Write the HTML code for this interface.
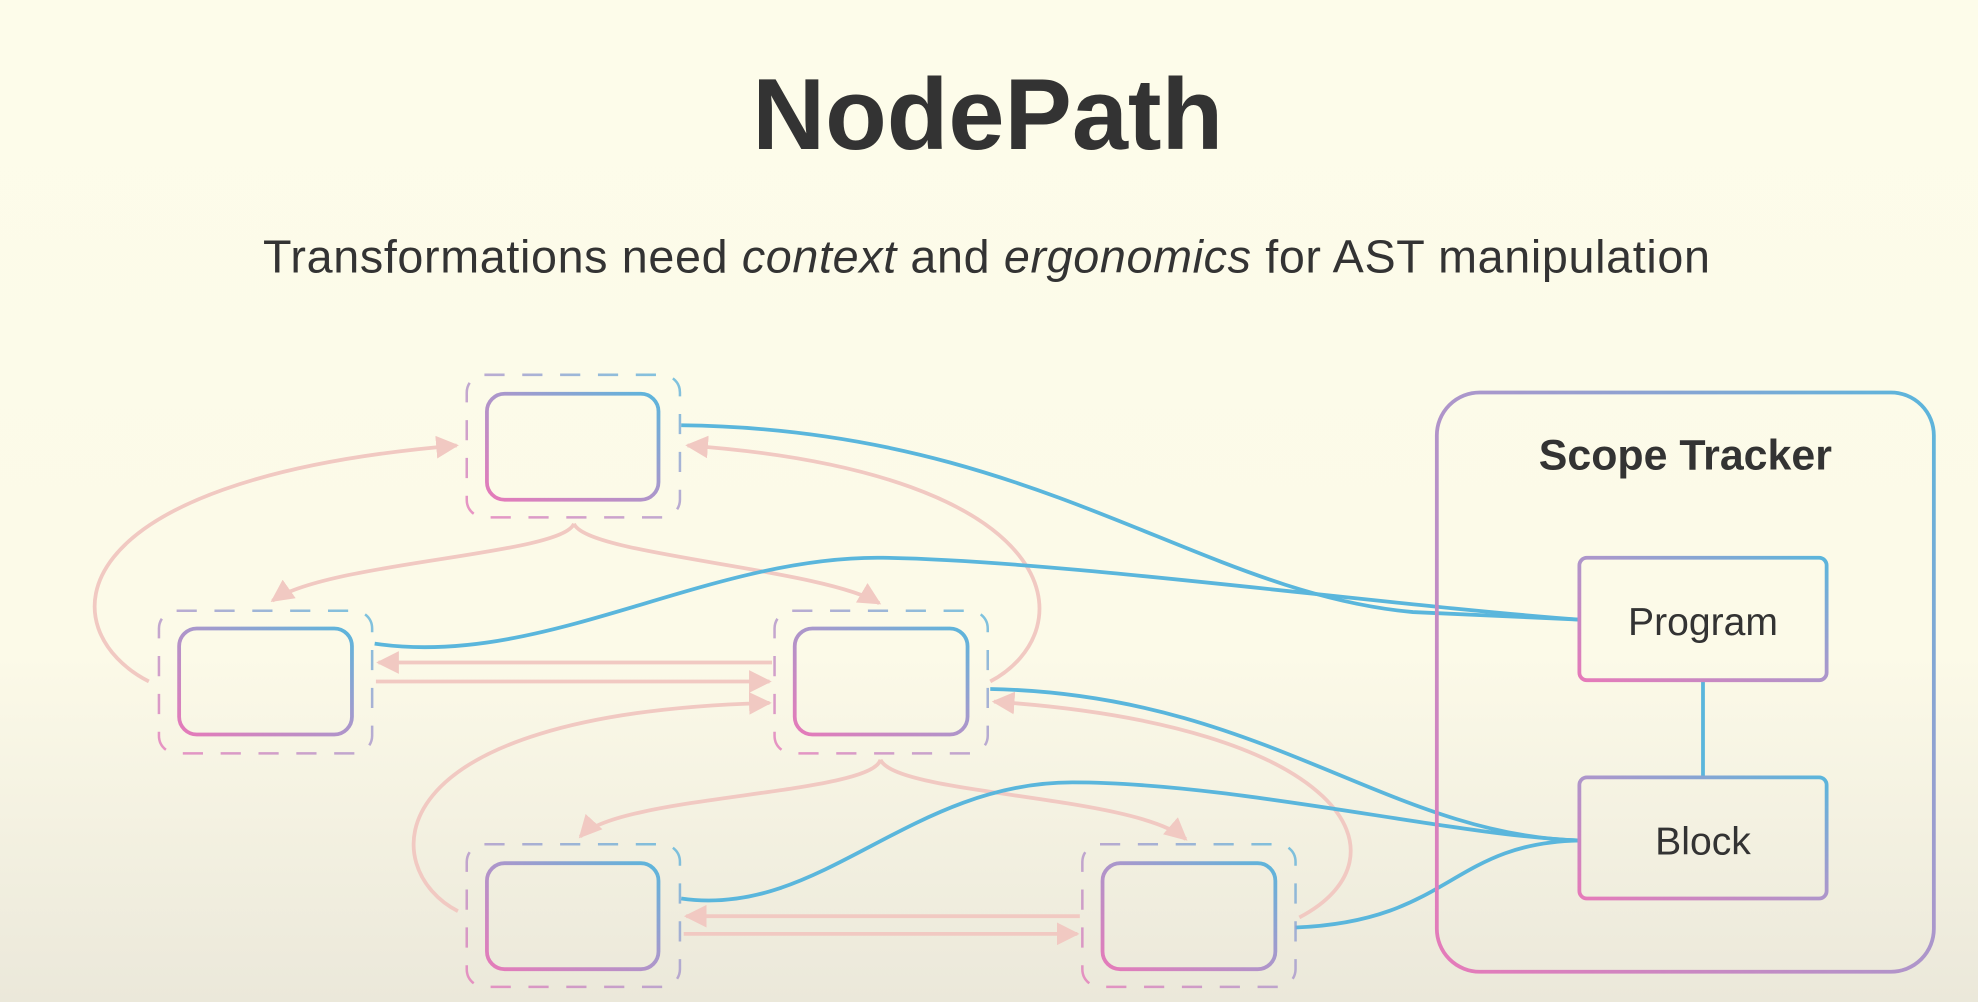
<!DOCTYPE html>
<html><head><meta charset="utf-8"><style>
html,body{margin:0;padding:0;}
body{width:1978px;height:1002px;overflow:hidden;background:linear-gradient(#fdfcea 0%,#fcfae8 65%,#ebe8da 100%);}
svg{display:block}
</style></head><body>
<svg width="1978" height="1002" viewBox="0 0 1568 794" preserveAspectRatio="none" xmlns="http://www.w3.org/2000/svg">
<defs>
<linearGradient id="g" x1="0" y1="1" x2="1" y2="0">
<stop offset="0" stop-color="#e67ab9"/><stop offset="0.55" stop-color="#a898cc"/><stop offset="1" stop-color="#5ab6dc"/>
</linearGradient>
<marker id="ap" viewBox="0 0 10 10" refX="9" refY="5" markerWidth="6" markerHeight="6" orient="auto" markerUnits="strokeWidth">
<path d="M0,0 L10,5 L0,10 z" fill="#f1c9c2"/></marker>
</defs>
<text x="783" y="118" text-anchor="middle" font-family="Liberation Sans, sans-serif" font-weight="bold" font-size="80" fill="#333">NodePath</text>
<text x="782" y="216" text-anchor="middle" font-family="Liberation Sans, sans-serif" font-size="37" fill="#333" textLength="1147" lengthAdjust="spacing">Transformations need <tspan font-style="italic">context</tspan> and <tspan font-style="italic">ergonomics</tspan> for AST manipulation</text>

<g fill="none" stroke="#f1c9c2" stroke-width="3">
<path d="M118,540 C40,500 40,380 362,353" marker-end="url(#ap)"/>
<path d="M785,540 C860,500 850,375 545,353" marker-end="url(#ap)"/>
<path d="M455,415 C445,440 260,445 216,476" marker-end="url(#ap)"/>
<path d="M455,415 C465,440 650,450 697,478" marker-end="url(#ap)"/>
<path d="M612,525 L300,525" marker-end="url(#ap)"/>
<path d="M298,540 L610,540" marker-end="url(#ap)"/>
<path d="M363,722 C300,690 290,565 610,557" marker-end="url(#ap)"/>
<path d="M1030,727 C1120,680 1070,575 788,556" marker-end="url(#ap)"/>
<path d="M698,602 C690,630 490,630 460,663" marker-end="url(#ap)"/>
<path d="M698,602 C710,630 900,630 940,665" marker-end="url(#ap)"/>
<path d="M856,726 L544,726" marker-end="url(#ap)"/>
<path d="M542,740 L854,740" marker-end="url(#ap)"/>
</g>

<g fill="none" stroke="#5ab6dc" stroke-width="3">
<path d="M540,337 C820,340 950,470 1120,485 L1252,491"/>
<path d="M297,510 C430,530 560,440 700,442 S1100,480 1252,491"/>
<path d="M785,546 C1000,550 1100,662 1252,666"/>
<path d="M540,712 C650,728 720,620 850,620 S1150,662 1252,666"/>
<path d="M1027,735 C1150,730 1150,668 1252,666"/>
<path d="M1350,539 L1350,616"/>
</g>

<g fill="none" stroke="url(#g)" stroke-width="3">
<rect x="386" y="312" width="136" height="84" rx="14"/>
<rect x="142" y="498" width="137" height="84" rx="14"/>
<rect x="630" y="498" width="137" height="84" rx="14"/>
<rect x="386" y="684" width="136" height="84" rx="14"/>
<rect x="874" y="684" width="137" height="84" rx="14"/>
</g>
<g fill="none" stroke="url(#g)" stroke-width="2" stroke-dasharray="16,14" opacity="0.8">
<rect x="370" y="297" width="169" height="113" rx="14"/>
<rect x="126" y="484" width="169" height="113" rx="14"/>
<rect x="614" y="484" width="169" height="113" rx="14"/>
<rect x="370" y="669" width="169" height="113" rx="14"/>
<rect x="858" y="669" width="169" height="113" rx="14"/>
</g>

<rect x="1139" y="311" width="394" height="459" rx="34" fill="none" stroke="url(#g)" stroke-width="3"/>
<text x="1336" y="372" text-anchor="middle" font-family="Liberation Sans, sans-serif" font-weight="bold" font-size="34" fill="#333">Scope Tracker</text>
<rect x="1252" y="442" width="196" height="97" rx="6" fill="none" stroke="url(#g)" stroke-width="3"/>
<rect x="1252" y="616" width="196" height="96" rx="6" fill="none" stroke="url(#g)" stroke-width="3"/>
<text x="1350" y="503" text-anchor="middle" font-family="Liberation Sans, sans-serif" font-size="31" fill="#333">Program</text>
<text x="1350" y="677" text-anchor="middle" font-family="Liberation Sans, sans-serif" font-size="31" fill="#333">Block</text>
</svg>
</body></html>
